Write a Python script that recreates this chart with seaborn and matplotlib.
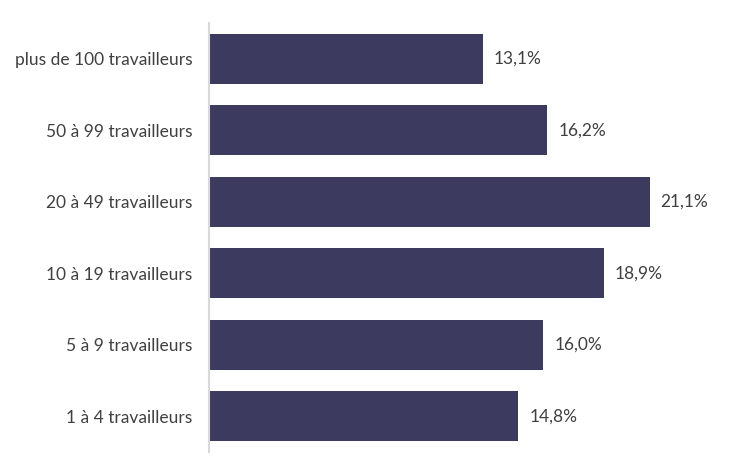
import matplotlib
matplotlib.use("Agg")
import matplotlib.pyplot as plt
import seaborn as sns
import pandas as pd

categories = ["plus de 100 travailleurs", "50 à 99 travailleurs", "20 à 49 travailleurs",
              "10 à 19 travailleurs", "5 à 9 travailleurs", "1 à 4 travailleurs"]
values = [13.1, 16.2, 21.1, 18.9, 16.0, 14.8]
labels = ["13,1%", "16,2%", "21,1%", "18,9%", "16,0%", "14,8%"]

df = pd.DataFrame({"cat": categories, "val": values})

sns.set_theme(style="white")
plt.rcParams['font.family'] = ['Lato', 'DejaVu Sans']

fig = plt.figure(figsize=(7.54, 4.75), dpi=100)
ax = fig.add_axes([209/754, 1-452/475, (731-209)/754, (452-23)/475])
sns.barplot(data=df, x="val", y="cat", color="#3d3a5f", width=0.7, ax=ax,
            saturation=1, linewidth=0)

ax.set_xlim(0, 25)
ax.set_ylim(5.5, -0.5)
ax.set_xlabel("")
ax.set_ylabel("")
ax.set_xticks([])
for s in ["top", "right", "bottom"]:
    ax.spines[s].set_visible(False)
ax.spines["left"].set_color("#d9d9d9")
ax.spines["left"].set_linewidth(1.5)
ax.tick_params(axis="y", length=0, pad=12, labelsize=12.5, labelcolor="#404040")

for i, (v, lab) in enumerate(zip(values, labels)):
    ax.annotate(lab, (v, i), xytext=(8, 0), textcoords="offset points",
                va="center", ha="left", fontsize=12.5, color="#404040")

fig.savefig("out.png", dpi=100)
